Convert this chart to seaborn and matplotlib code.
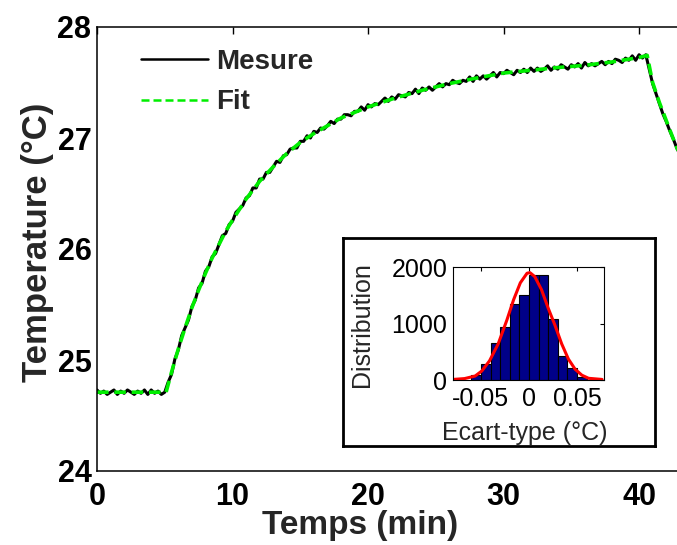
import numpy as np
import matplotlib
matplotlib.use("Agg")
import matplotlib.pyplot as plt
import seaborn as sns

# --- Measured temperature, sampled every 0.25 min ---
t_mesure = np.arange(0, 43.0 + 1e-6, 0.25)
T_mesure = [
    24.73, 24.70, 24.72, 24.69,
    24.71, 24.73, 24.69, 24.72,
    24.70, 24.73, 24.71, 24.69,
    24.72, 24.70, 24.73, 24.69,
    24.73, 24.70, 24.72, 24.69,
    24.71, 24.80, 24.87, 25.01,
    25.09, 25.22, 25.29, 25.36,
    25.48, 25.54, 25.65, 25.69,
    25.80, 25.84, 25.93, 25.96,
    26.04, 26.12, 26.14, 26.22,
    26.25, 26.33, 26.36, 26.39,
    26.46, 26.48, 26.55, 26.55,
    26.63, 26.63, 26.69, 26.69,
    26.74, 26.79, 26.78, 26.84,
    26.85, 26.90, 26.91, 26.91,
    26.97, 26.97, 27.02, 27.00,
    27.06, 27.05, 27.09, 27.08,
    27.11, 27.15, 27.13, 27.17,
    27.17, 27.21, 27.21, 27.20,
    27.24, 27.24, 27.28, 27.25,
    27.30, 27.28, 27.31, 27.30,
    27.33, 27.36, 27.33, 27.37,
    27.35, 27.39, 27.38, 27.37,
    27.41, 27.40, 27.44, 27.40,
    27.45, 27.43, 27.46, 27.43,
    27.46, 27.49, 27.46, 27.49,
    27.48, 27.52, 27.50, 27.49,
    27.52, 27.51, 27.55, 27.51,
    27.56, 27.53, 27.56, 27.53,
    27.56, 27.59, 27.55, 27.59,
    27.58, 27.61, 27.59, 27.57,
    27.61, 27.59, 27.62, 27.59,
    27.63, 27.60, 27.63, 27.60,
    27.62, 27.65, 27.61, 27.64,
    27.62, 27.66, 27.64, 27.62,
    27.66, 27.64, 27.67, 27.63,
    27.68, 27.65, 27.67, 27.65,
    27.67, 27.69, 27.66, 27.69,
    27.67, 27.71, 27.70, 27.68,
    27.72, 27.70, 27.74, 27.70,
    27.75, 27.72, 27.75, 27.62,
    27.49, 27.40, 27.31, 27.22,
    27.15, 27.07, 27.00, 26.92,
    26.85,
]

# --- Fitted model ---
t_fit = [0, 5.1, 5.5, 6.0, 6.5, 7.0, 7.5, 8.0, 8.5, 9.0, 9.5, 10, 11, 12, 13,
         14, 15, 16, 17, 18, 19, 20, 22, 24, 26, 28, 30, 32, 34, 36, 38, 40,
         40.6, 41.0, 41.5, 42.0, 42.5, 43.0]
T_fit = [24.71, 24.71, 24.89, 25.10, 25.29, 25.47, 25.63, 25.78, 25.92, 26.04,
         26.16, 26.26, 26.45, 26.61, 26.74, 26.86, 26.96, 27.04, 27.11, 27.18,
         27.23, 27.28, 27.36, 27.43, 27.49, 27.54, 27.585, 27.61, 27.635,
         27.655, 27.685, 27.725, 27.745, 27.50, 27.32, 27.16, 27.00, 26.85]

# --- Residual distribution (bins of 0.01 degC) ---
bin_edges = [-0.06, -0.05, -0.04, -0.03, -0.02, -0.01, 0.0, 0.01, 0.02, 0.03,
             0.04, 0.05, 0.06]
bin_centers = [-0.055, -0.045, -0.035, -0.025, -0.015, -0.005, 0.005, 0.015,
               0.025, 0.035, 0.045, 0.055]
bin_counts = [90, 285, 650, 940, 1345, 1510, 1850, 1850, 1080, 425, 215, 50]

# Gaussian fit of the residuals
gauss_x = [-0.079, -0.067, -0.056, -0.049, -0.041, -0.032, -0.023, -0.016,
           -0.009, -0.002, 0.001, 0.006, 0.013, 0.020, 0.027, 0.034, 0.041,
           0.048, 0.055, 0.062, 0.076]
gauss_y = [10, 25, 70, 160, 340, 640, 1060, 1420, 1720, 1890, 1900, 1830,
           1600, 1270, 970, 640, 370, 190, 85, 30, 10]

sns.set_style("white")
plt.rcParams["font.family"] = ["Liberation Sans", "DejaVu Sans"]
plt.rcParams["axes.unicode_minus"] = False

W, H = 677, 545
fig = plt.figure(figsize=(W / 100, H / 100), dpi=100)


def fig_rect(x0, y0, x1, y1):
    """Pixel box (top-left origin) -> figure fraction rectangle."""
    return [x0 / W, 1 - y1 / H, (x1 - x0) / W, (y1 - y0) / H]


# ---------------- main axes ----------------
ax = fig.add_axes(fig_rect(97, 27, 677, 471))
sns.lineplot(x=t_mesure, y=T_mesure, color="black", lw=2.2, ax=ax,
             label="Mesure")
sns.lineplot(x=t_fit, y=T_fit, color="#00ee00", lw=2.6, ax=ax, label="Fit")
ax.lines[1].set_dashes([3.2, 1.6])

ax.set_xlim(0, 42.8)
ax.set_ylim(24, 28)
ax.set_xticks([0, 10, 20, 30, 40])
ax.set_yticks([24, 25, 26, 27, 28])
ax.tick_params(direction="in", length=5, width=1, top=True, right=False,
               labelsize=22, colors="black")
ax.tick_params(axis="x", pad=8)
ax.tick_params(axis="y", pad=4)
for lab in ax.get_xticklabels() + ax.get_yticklabels():
    lab.set_fontweight("bold")
for sp in ax.spines.values():
    sp.set_color("black")
    sp.set_linewidth(1.1)
ax.spines["right"].set_visible(False)

ax.set_xlabel("Temps (min)", fontsize=24, fontweight="bold")
ax.set_ylabel("Temperature (°C)", fontsize=25, fontweight="bold")
ax.xaxis.set_label_coords((360 - 97) / 580, -0.088)
ax.yaxis.set_label_coords(-0.074, 0.516)

leg = ax.legend(loc="upper left", bbox_to_anchor=(0.033, 1.0075),
                frameon=False, handlelength=2.4, handletextpad=0.3,
                labelspacing=0.53, borderpad=0.4,
                prop={"size": 20, "weight": "bold"})
for h in leg.get_lines():
    h.set_linewidth(1.8)

# ---------------- inset frame ----------------
box = fig.add_axes(fig_rect(343, 238, 655, 446), zorder=3)
box.set_xticks([])
box.set_yticks([])
box.set_facecolor("white")
for sp in box.spines.values():
    sp.set_color("black")
    sp.set_linewidth(2)

# ---------------- inset histogram ----------------
axin = fig.add_axes(fig_rect(453, 267, 604, 380), zorder=4)
sns.histplot(x=bin_centers, weights=bin_counts, bins=bin_edges,
             color="#000088", edgecolor="black", linewidth=0.8, alpha=1,
             ax=axin)
sns.lineplot(x=gauss_x, y=gauss_y, color="red", lw=2.2, ax=axin)
axin.set_xlim(-0.079, 0.078)
axin.set_ylim(0, 2000)
axin.set_xticks([-0.05, 0, 0.05])
axin.set_xticklabels(["-0.05", "0", "0.05"])
axin.set_yticks([0, 1000, 2000])
axin.tick_params(direction="in", length=3, width=0.8, top=True, right=True,
                 labelsize=18, colors="black")
axin.tick_params(axis="x", pad=5)
axin.tick_params(axis="y", pad=4)
for sp in axin.spines.values():
    sp.set_color("black")
    sp.set_linewidth(0.8)
axin.set_xlabel("Ecart-type (°C)", fontsize=18)
axin.set_ylabel("Distribution", fontsize=18)
axin.xaxis.set_label_coords(0.477, -0.36)
axin.yaxis.set_label_coords(-0.52, 0.49)

fig.savefig("out.png", dpi=100)
